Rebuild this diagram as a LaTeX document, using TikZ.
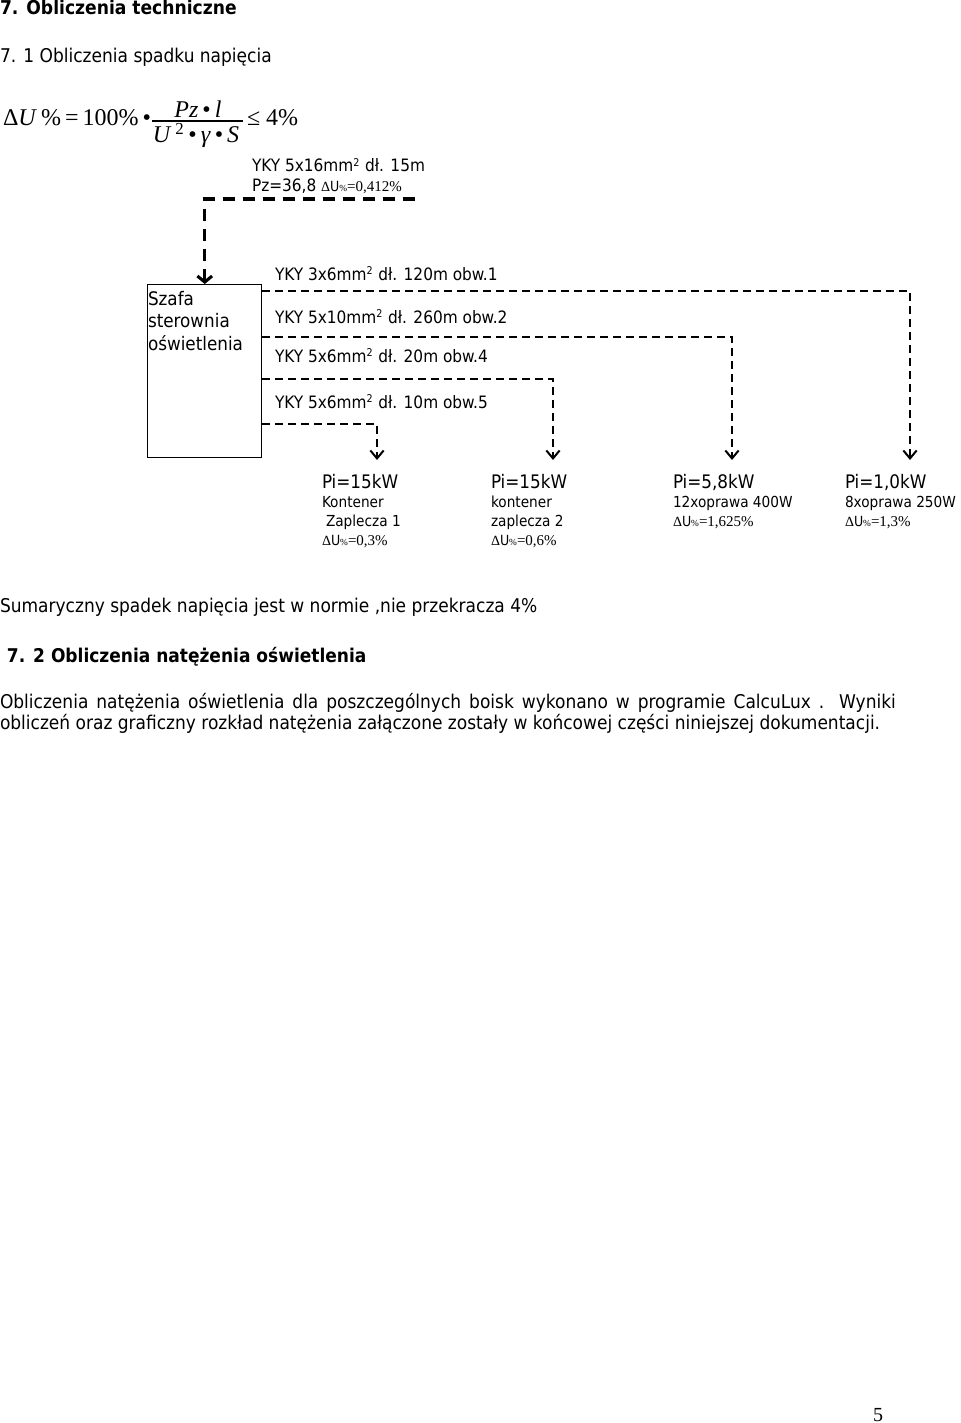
\documentclass[tikz,border=0pt]{standalone}
\usepackage{fontspec}
\setmainfont{DejaVu Sans Condensed}
\newfontfamily\ser{Liberation Serif}
\usetikzlibrary{arrows.meta}
\newcommand\fsz[1]{\fontsize{#1}{#1}\selectfont}
\newcommand\sq{\textsuperscript{\fsz{8}2}}
\newcommand\dUlab[1]{{\ser\fsz{10.5}Δ}{\fsz{10.5}U}{\ser\fsz{7}\%}{\ser\fsz{11.25}=#1}}
\begin{document}
\begin{tikzpicture}[x=0.75pt,y=-0.75pt,
  txt/.style={anchor=base west, inner sep=0pt, outer sep=0pt},
  wire/.style={line width=1.5pt, dash pattern=on 6pt off 3.75pt},
  feed/.style={line width=2.3pt, dash pattern=on 9pt off 6pt},
  tip/.style={-{Straight Barb[length=6pt,width=10pt]}},
  bigtip/.style={-{Straight Barb[length=4.5pt,width=11pt]}},
  big/.style={font=\fsz{12.8}},
  body/.style={font=\fsz{14.2}},
  small/.style={font=\fsz{11.4}},
  pfont/.style={font=\fsz{14}},
  ffont/.style={font=\ser\fsz{18}}
]
\fill[white] (0,0) rectangle (960,1423);
\useasboundingbox (0,0) rectangle (960,1423);

% headings
\node[txt] (h1) at (0,15) {\fsz{14.3}\bfseries 7. Obliczenia techniczne};
\node[txt, body] (h2) at (0,63) {7. 1 Obliczenia spadku napięcia};

% formula
\node[txt, ffont] (fl) at (3,126) {Δ\textit{U}\,\%\,=\,100\%\,•};
\node[anchor=base, inner sep=0pt, ffont] (num) at (198,118) {\textit{Pz}\,•\,\textit{l}};
\node[anchor=base, inner sep=0pt, ffont] (den) at (196,143) {\textit{U}\,\textsuperscript{2}\,•\,\textit{γ}\,•\,\textit{S}};
\draw[line width=0.9pt] (152,121) -- (243,121);
\node[txt, ffont] (fr) at (247,126) {≤ 4\%};

% feed
\node[txt, big] (k0a) at (252,172) {YKY 5x16mm\sq{} dł. 15m};
\node[txt, big] (k0b) at (252,192) {Pz=36,8 \dUlab{0,412\%}};

% cabinet
\node[draw, line width=1.1pt, minimum width=85.5pt, minimum height=129.75pt, anchor=north west, inner sep=0pt] (szafa) at (147,284) {};
\node[txt, pfont] (s1) at (148,305) {Szafa};
\node[txt, pfont] (s2) at (148,327) {sterownia};
\node[txt, pfont] (s3) at (148,350) {oświetlenia};

\coordinate (f0) at (415,199);
\draw[feed, bigtip] (f0) -| (szafa.north);

% cable labels
\node[txt, big] (c1) at (275,280) {YKY 3x6mm\sq{} dł. 120m obw.1};
\node[txt, big] (c2) at (275,323) {YKY 5x10mm\sq{} dł. 260m obw.2};
\node[txt, big] (c4) at (275,362) {YKY 5x6mm\sq{} dł. 20m obw.4};
\node[txt, big] (c5) at (275,408) {YKY 5x6mm\sq{} dł. 10m obw.5};

% targets
\coordinate (t1) at (377,460);
\coordinate (t2) at (553,460);
\coordinate (t3) at (732,460);
\coordinate (t4) at (910,460);

\draw[wire, tip] (szafa.east |- 0,291) -| (t4);
\draw[wire, tip] (szafa.east |- 0,337) -| (t3);
\draw[wire, tip] (szafa.east |- 0,379) -| (t2);
\draw[wire, tip] (szafa.east |- 0,424) -| (t1);

% loads
\node[txt, pfont] (a1) at (322,488) {Pi=15kW};
\node[txt, small] (a2) at (322,507) {Kontener};
\node[txt, small] (a3) at (322,526) {\hspace{3pt}Zaplecza 1};
\node[txt] (a4) at (322,545) {\dUlab{0,3\%}};

\node[txt, pfont] (b1) at (491,488) {Pi=15kW};
\node[txt, small] (b2) at (491,507) {kontener};
\node[txt, small] (b3) at (491,526) {zaplecza 2};
\node[txt] (b4) at (491,545) {\dUlab{0,6\%}};

\node[txt, pfont] (d1) at (673,488) {Pi=5,8kW};
\node[txt, small] (d2) at (673,507) {12xoprawa 400W};
\node[txt] (d3) at (673,526) {\dUlab{1,625\%}};

\node[txt, pfont] (e1) at (845,488) {Pi=1,0kW};
\node[txt, small] (e2) at (845,507) {8xoprawa 250W};
\node[txt] (e3) at (845,526) {\dUlab{1,3\%}};

% bottom text
\node[txt, body] (sum) at (0,612) {Sumaryczny spadek napięcia jest w normie ,nie przekracza 4\%};
\node[txt] (h3) at (7,662) {\fsz{14.2}\bfseries 7. 2 Obliczenia natężenia oświetlenia};
\node[txt, body] (p1) at (0,708) {\makebox[672pt][s]{Obliczenia natężenia oświetlenia dla poszczególnych boisk wykonano w programie CalcuLux . Wyniki}};
\node[txt, body] (p2) at (0,729) {obliczeń oraz graficzny rozkład natężenia załączone zostały w końcowej części niniejszej dokumentacji.};

\node[txt, font=\ser\fsz{15}] (pg) at (873,1421) {5};
\end{tikzpicture}
\end{document}
